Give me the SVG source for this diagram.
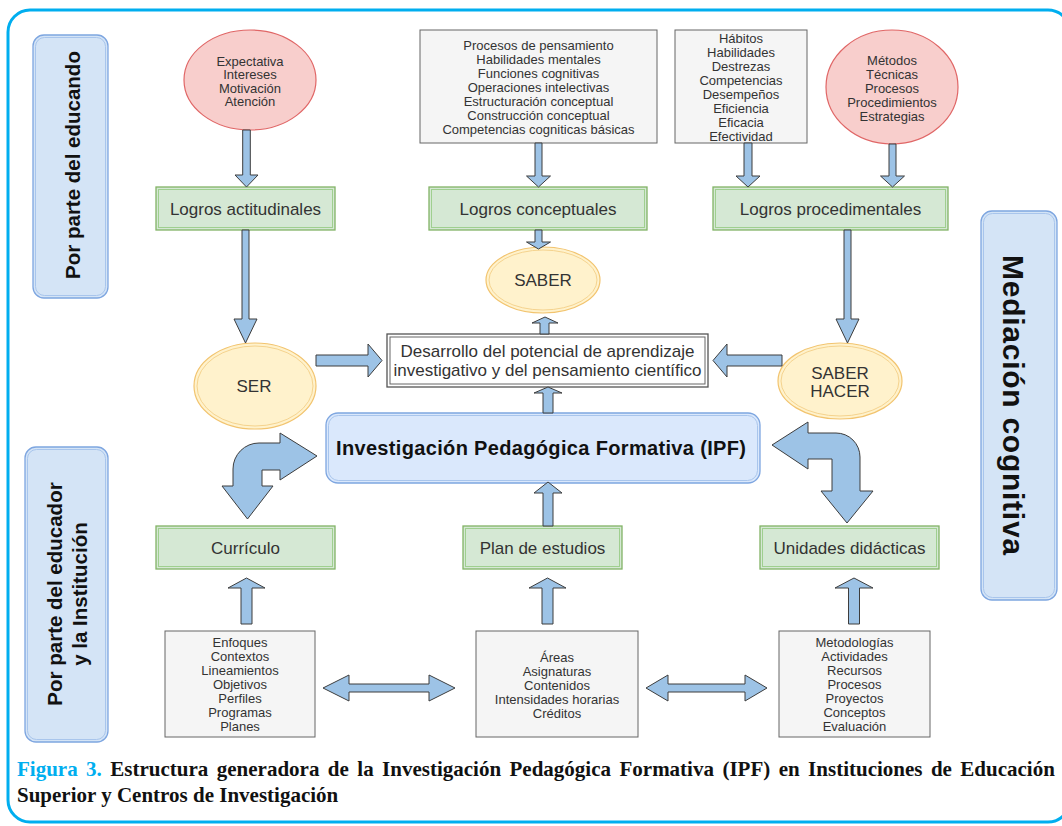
<svg xmlns="http://www.w3.org/2000/svg" width="1062" height="826" viewBox="0 0 1062 826">
<style>
.frame{fill:#fff;stroke:#00aeef;stroke-width:3}
.side{fill:#d4e4f6;stroke:#7ea6e0;stroke-width:1.3}
.sidein{fill:none;stroke:#a8c5ec;stroke-width:1}
.gray{fill:#f5f5f5;stroke:#666;stroke-width:1}
.red{fill:#f8cecc;stroke:#e06666;stroke-width:1.2}
.yel{fill:#fff2cc;stroke:#f2c46f;stroke-width:1.2}
.yelin{fill:none;stroke:#f5d38e;stroke-width:1}
.grn{fill:#d5e8d4;stroke:#82b366;stroke-width:1.3}
.grnin{fill:none;stroke:#9fcf8f;stroke-width:1}
.dev{fill:#fff;stroke:#555;stroke-width:1.3}
.devin{fill:none;stroke:#666;stroke-width:1}
.ipf{fill:#dae8fc;stroke:#7ea6e0;stroke-width:1.3}
.arr{fill:#9dc3e6;stroke:#3d3d3d;stroke-width:1;stroke-linejoin:miter}
text{font-family:"Liberation Sans",Arial,Helvetica,sans-serif;text-anchor:middle;fill:#333}
.s13{font-size:13px}
.s17{font-size:17px}
.sb{font-size:20.5px;font-weight:bold;fill:#111}
.cap{font-family:"Liberation Serif","Times New Roman",serif;font-size:21px;font-weight:bold;text-anchor:start;fill:#111}
</style>

<rect class="frame" x="8" y="10" width="1062" height="812" rx="22"/>

<g id="side-educando">
<rect class="side" x="33" y="35" width="75" height="263" rx="11"/>
<rect class="sidein" x="35.5" y="37.5" width="70" height="258" rx="9"/>
<text class="sb" transform="translate(80,165) rotate(-90)">Por parte del educando</text>
</g>

<g id="side-educador">
<rect class="side" x="25" y="447" width="83" height="295" rx="11"/>
<rect class="sidein" x="27.5" y="449.5" width="78" height="290" rx="9"/>
<text class="sb" transform="translate(62,594) rotate(-90)">Por parte del educador</text>
<text class="sb" transform="translate(87,594) rotate(-90)">y la Institución</text>
</g>

<g id="side-mediacion">
<rect class="side" x="981" y="211" width="76" height="389" rx="11"/>
<rect class="sidein" x="983.5" y="213.5" width="71" height="384" rx="9"/>
<text class="sb" style="font-size:30px" textLength="300" lengthAdjust="spacing" transform="translate(1003,405) rotate(90)">Mediación cognitiva</text>
</g>

<g id="actitud-fuentes">
<ellipse class="red" cx="250" cy="80" rx="66" ry="50"/>
<text class="s13" x="250" y="65.5">Expectativa</text>
<text class="s13" x="250" y="79">Intereses</text>
<text class="s13" x="250" y="92.5">Motivación</text>
<text class="s13" x="250" y="106">Atención</text>
</g>

<g id="concept-fuentes">
<rect class="gray" x="420" y="30" width="237" height="113"/>
<text class="s13" x="538.5" y="49.5">Procesos de pensamiento</text>
<text class="s13" x="538.5" y="63.5">Habilidades mentales</text>
<text class="s13" x="538.5" y="77.5">Funciones cognitivas</text>
<text class="s13" x="538.5" y="91.5">Operaciones intelectivas</text>
<text class="s13" x="538.5" y="105.5">Estructuración conceptual</text>
<text class="s13" x="538.5" y="119.5">Construcción conceptual</text>
<text class="s13" x="538.5" y="133.5">Competencias cogniticas básicas</text>
</g>

<g id="proc-fuentes1">
<rect class="gray" x="675" y="30" width="132" height="113"/>
<text class="s13" x="741" y="42.5">Hábitos</text>
<text class="s13" x="741" y="56.5">Habilidades</text>
<text class="s13" x="741" y="70.5">Destrezas</text>
<text class="s13" x="741" y="84.5">Competencias</text>
<text class="s13" x="741" y="98.5">Desempeños</text>
<text class="s13" x="741" y="112.5">Eficiencia</text>
<text class="s13" x="741" y="126.5">Eficacia</text>
<text class="s13" x="741" y="140.5">Efectividad</text>
</g>

<g id="proc-fuentes2">
<ellipse class="red" cx="892" cy="87" rx="66" ry="57"/>
<text class="s13" x="892" y="64.5">Métodos</text>
<text class="s13" x="892" y="78.5">Técnicas</text>
<text class="s13" x="892" y="92.5">Procesos</text>
<text class="s13" x="892" y="106.5">Procedimientos</text>
<text class="s13" x="892" y="120.5">Estrategias</text>
</g>

<g id="logros-actitudinales">
<rect class="grn" x="156" y="187" width="179" height="43"/>
<rect class="grnin" x="158.5" y="189.5" width="174" height="38"/>
<text class="s17" x="245.5" y="215">Logros actitudinales</text>
</g>
<g id="logros-conceptuales">
<rect class="grn" x="429" y="187" width="218" height="43"/>
<rect class="grnin" x="431.5" y="189.5" width="213" height="38"/>
<text class="s17" x="538" y="215">Logros conceptuales</text>
</g>
<g id="logros-procedimentales">
<rect class="grn" x="713" y="187" width="235" height="43"/>
<rect class="grnin" x="715.5" y="189.5" width="230" height="38"/>
<text class="s17" x="830.5" y="215">Logros procedimentales</text>
</g>

<g id="saber">
<ellipse class="yel" cx="543" cy="280" rx="57" ry="33"/>
<ellipse class="yelin" cx="543" cy="280" rx="54" ry="30"/>
<text class="s17" x="543" y="286">SABER</text>
</g>
<g id="ser">
<ellipse class="yel" cx="255" cy="386" rx="61" ry="43"/>
<ellipse class="yelin" cx="255" cy="386" rx="58" ry="40"/>
<text class="s17" x="254" y="392">SER</text>
</g>
<g id="saber-hacer">
<ellipse class="yel" cx="840" cy="381" rx="62" ry="38"/>
<ellipse class="yelin" cx="840" cy="381" rx="59" ry="35"/>
<text class="s17" x="840" y="379">SABER</text>
<text class="s17" x="840" y="397">HACER</text>
</g>

<g id="desarrollo">
<rect class="dev" x="387" y="334" width="321" height="53"/>
<rect class="devin" x="390" y="337" width="315" height="47"/>
<text class="s17" x="547.5" y="357">Desarrollo del potencial de aprendizaje</text>
<text class="s17" x="547.5" y="376">investigativo y del pensamiento científico</text>
</g>

<g id="ipf">
<rect class="ipf" x="326" y="413" width="434" height="70" rx="12"/>
<rect class="sidein" x="328.5" y="415.5" width="429" height="65" rx="10"/>
<text x="541" y="455" style="font-size:20px;font-weight:bold;fill:#111" textLength="410" lengthAdjust="spacing">Investigación Pedagógica Formativa (IPF)</text>
</g>

<g id="curriculo">
<rect class="grn" x="156" y="526" width="179" height="43"/>
<rect class="grnin" x="158.5" y="528.5" width="174" height="38"/>
<text class="s17" x="245.5" y="554">Currículo</text>
</g>
<g id="plan">
<rect class="grn" x="463" y="526" width="159" height="43"/>
<rect class="grnin" x="465.5" y="528.5" width="154" height="38"/>
<text class="s17" x="542.5" y="554">Plan de estudios</text>
</g>
<g id="unidades">
<rect class="grn" x="760" y="526" width="179" height="43"/>
<rect class="grnin" x="762.5" y="528.5" width="174" height="38"/>
<text class="s17" x="849.5" y="554">Unidades didácticas</text>
</g>

<g id="curriculo-fuentes">
<rect class="gray" x="165" y="631" width="150" height="106"/>
<text class="s13" x="240" y="647">Enfoques</text>
<text class="s13" x="240" y="661">Contextos</text>
<text class="s13" x="240" y="675">Lineamientos</text>
<text class="s13" x="240" y="689">Objetivos</text>
<text class="s13" x="240" y="703">Perfiles</text>
<text class="s13" x="240" y="717">Programas</text>
<text class="s13" x="240" y="731">Planes</text>
</g>
<g id="plan-fuentes">
<rect class="gray" x="476" y="631" width="162" height="106"/>
<text class="s13" x="557" y="661.5">Áreas</text>
<text class="s13" x="557" y="675.5">Asignaturas</text>
<text class="s13" x="557" y="689.5">Contenidos</text>
<text class="s13" x="557" y="703.5">Intensidades horarias</text>
<text class="s13" x="557" y="717.5">Créditos</text>
</g>
<g id="unidades-fuentes">
<rect class="gray" x="779" y="631" width="151" height="106"/>
<text class="s13" x="854.5" y="647">Metodologías</text>
<text class="s13" x="854.5" y="661">Actividades</text>
<text class="s13" x="854.5" y="675">Recursos</text>
<text class="s13" x="854.5" y="689">Procesos</text>
<text class="s13" x="854.5" y="703">Proyectos</text>
<text class="s13" x="854.5" y="717">Conceptos</text>
<text class="s13" x="854.5" y="731">Evaluación</text>
</g>

<g id="connectors">
<polygon class="arr" points="242.7,130 250.3,130 250.3,175 258,175 246.5,187 235,175 242.7,175"/>
<polygon class="arr" points="535,143 542,143 542,176 550.5,176 538.5,187 526.5,176 535,176"/>
<polygon class="arr" points="744,143 752,143 752,176 760,176 748,187 736,176 744,176"/>
<polygon class="arr" points="889,144 896,144 896,176 904.5,176 892.5,187 880.5,176 889,176"/>
<polygon class="arr" points="535,230 542,230 542,242 550.5,242 538.5,249 526.5,242 535,242"/>
<polygon class="arr" points="242,230 249,230 249,319 257,319 245.5,343 234,319 242,319"/>
<polygon class="arr" points="844,230 851,230 851,319 859,319 847.5,343 836,319 844,319"/>
<polygon class="arr" points="316,355 368,355 368,344 382,360.5 368,377 368,366 316,366"/>
<polygon class="arr" points="782,355 727,355 727,344 713,360.5 727,377 727,366 782,366"/>
<polygon class="arr" points="540,334 549,334 549,323 558,323 545,317 532,323 540,323"/>
<polygon class="arr" points="543,413 553,413 553,393 562,393 548,387 534,393 543,393"/>
<polygon class="arr" points="543,526 553,526 553,493 562,493 548,482 534,493 543,493"/>
<polygon class="arr" points="241,624 252,624 252,588 265,588 246.5,578 228,588 241,588"/>
<polygon class="arr" points="542,624 553,624 553,588 566,588 547.5,578 529,588 542,588"/>
<polygon class="arr" points="848.5,624 859.5,624 859.5,588 873,588 854,578 835,588 848.5,588"/>
<polygon class="arr" points="323,688 349,675 349,684 429,684 429,675 455,688 429,701 429,692 349,692 349,701"/>
<polygon class="arr" points="646,688 668,675 668,684 745,684 745,675 767,688 745,701 745,692 668,692 668,701"/>
<path class="arr" d="M317,456 L280,433 L280,443 L259,443 A26,26 0 0 0 233,469 L233,486 L222,486 L247.5,519 L273,486 L262,486 L262,470 L280,470 L280,480 Z"/>
<path class="arr" d="M772,445 L808,422 L808,433 L836,433 A24,24 0 0 1 860,457 L860,491 L873,491 L847,523 L821,491 L832,491 L832,459 L808,459 L808,469 Z"/>
</g>

<g id="caption">
<text class="cap" x="17" y="776" word-spacing="3.2"><tspan fill="#00aeef">Figura 3.</tspan> Estructura generadora de la Investigación Pedagógica Formativa (IPF) en Instituciones de Educación</text>
<text class="cap" x="17" y="802">Superior y Centros de Investigación</text>
</g>
</svg>
